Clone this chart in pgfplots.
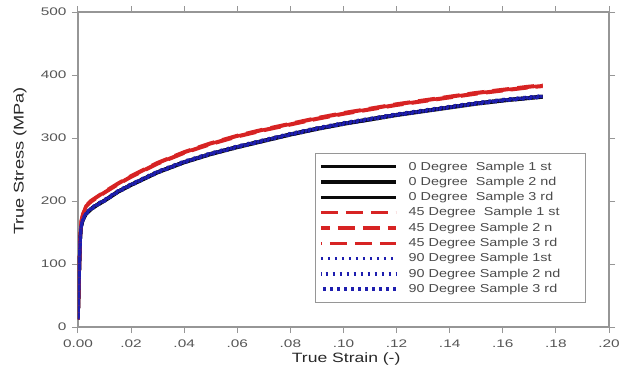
\documentclass[border=0pt]{standalone}
\usepackage{fontspec}
\setmainfont{Liberation Sans}
\newfontfamily\tickfont{Liberation Sans}[FakeStretch=1.4]
\newfontfamily\legfont{Liberation Sans}[FakeStretch=1.25]
\newfontfamily\labfont{Liberation Sans}[FakeStretch=1.3]
\usepackage{pgfplots}
\usepackage{pgfplotstable}
\pgfplotsset{compat=1.18}
\definecolor{axisgray}{RGB}{150,150,150}
\definecolor{ticktext}{RGB}{85,85,85}
\definecolor{labtext}{RGB}{40,40,40}
\definecolor{legtext}{RGB}{75,75,75}
\definecolor{red45}{RGB}{215,35,35}
\definecolor{blue90}{RGB}{30,30,175}
\definecolor{black0}{RGB}{10,10,10}

\pgfplotstableread{
e       k1  k2  k3   r1  r2  r3   b1  b2  b3
0       12  12  12   12  12  12   12  12  12
0.0003  60  60  59   60  61  59   60  61  59
0.0006  108 108 107  110 111 109  108 109 107
0.0009  145 145 144  150 151 149  145 146 144
0.0012  160 160 159  168 169 167  160 161 159
0.0018  170 170 169  178 179 177  170 171 169
0.003   180 180 179  192 193 191  180 181 179
0.005   188 188 187  200 201 199  188 189 187
0.0075  195 195 194  207 208 206  195 196 194
0.01    201 201 200  214 215 213  201 202 200
0.015   215 215 214  227 228 226  215 216 214
0.02    226 226 225  239 240 238  226 227 225
0.03    246 246 245  260 261 259  246 247 245
0.04    262 262 261  277 278 276  262 263 261
0.05    275 275 274  291 292 290  275 276 274
0.06    286 286 285  303 304 302  286 287 285
0.07    296 296 295  313 314 312  296 297 295
0.08    306 306 305  322 323 321  306 307 305
0.09    315 315 314  331 332 330  315 316 314
0.10    323 323 322  339 340 338  323 324 322
0.11    330 330 329  346 347 345  330 331 329
0.12    337 337 336  353 354 352  337 338 336
0.13    343 343 342  359 360 358  343 344 342
0.14    349 349 348  365 366 364  349 350 348
0.15    355 355 354  371 372 370  355 356 354
0.16    360 360 359  376 377 375  360 361 359
0.17    364 364 363  381 382 380  364 365 363
0.175   366 366 365  383 384 382  366 367 365
}\data

\begin{document}
\begin{tikzpicture}
\useasboundingbox (-78bp,-49bp) rectangle (542bp,327bp);
\begin{axis}[
  at={(0,0)}, anchor=south west,
  scale only axis, width=531bp, height=315bp,
  xmin=0, xmax=0.2, ymin=0, ymax=500,
  xtick={0,0.02,0.04,0.06,0.08,0.1,0.12,0.14,0.16,0.18,0.2},
  xticklabels={0.00,.02,.04,.06,.08,.10,.12,.14,.16,.18,.20},
  ytick={0,100,200,300,400,500},
  /pgf/number format/assume math mode=true,
  tick align=outside,
  major tick length=6bp,
  tick style={draw=axisgray, line width=1bp},
  axis line style={draw=axisgray, line width=1.5bp},
  every axis plot/.append style={line join=round},
  ticklabel style={font=\fontsize{11bp}{12bp}\tickfont, text=ticktext},
  xticklabel style={yshift=-3bp},
  yticklabel style={xshift=-2bp},
  xlabel={True Strain (-)},
  ylabel={True Stress (MPa)},
  label style={text=labtext},
  xlabel style={font=\fontsize{13.5bp}{15bp}\labfont, at={(axis description cs:0.505,-0.1016)}, anchor=center},
  ylabel style={font=\fontsize{14bp}{15bp}\labfont, at={(axis description cs:-0.1092,0.527)}, anchor=center},
  legend image code/.code={\draw[#1] (0bp,0bp) -- (75bp,0bp);},
  legend cell align=left,
  legend style={at={(axis description cs:0.957,0.552)}, anchor=north east,
    draw=axisgray, line width=1bp, inner xsep=4bp, inner ysep=5.5bp,
    font=\fontsize{11.5bp}{12bp}\legfont, text=legtext,
    nodes={inner ysep=2.4bp, inner xsep=4bp, text height=8.5bp, text depth=2bp},
    /tikz/every odd column/.append style={column sep=7bp}},
]
\addplot[black0, line width=3.4bp] table[x=e,y=k1]{\data};
\addplot[black0, line width=3.4bp] table[x=e,y=k2]{\data};
\addplot[black0, line width=3.4bp] table[x=e,y=k3]{\data};
\addplot[red45, line width=3.4bp, dash pattern=on 17bp off 8bp] table[x=e,y=r1]{\data};
\addplot[red45, line width=3.4bp, dash pattern=on 17bp off 8bp, dash phase=8bp] table[x=e,y=r2]{\data};
\addplot[red45, line width=3.4bp, dash pattern=on 17bp off 8bp, dash phase=16bp] table[x=e,y=r3]{\data};
\addplot[blue90, line width=3.4bp, dash pattern=on 2.5bp off 4.5bp] table[x=e,y=b1]{\data};
\addplot[blue90, line width=3.4bp, dash pattern=on 2.5bp off 4.5bp, dash phase=2.4bp] table[x=e,y=b2]{\data};
\addplot[blue90, line width=3.4bp, dash pattern=on 2.5bp off 4.5bp, dash phase=4.8bp] table[x=e,y=b3]{\data};
\legend{\makebox[169bp][l]{0 Degree~~Sample 1 st},
        \makebox[169bp][l]{0 Degree~~Sample 2 nd},
        \makebox[169bp][l]{0 Degree~~Sample 3 rd},
        \makebox[169bp][l]{45 Degree~~Sample 1 st},
        \makebox[169bp][l]{45 Degree Sample 2 n},
        \makebox[169bp][l]{45 Degree Sample 3 rd},
        \makebox[169bp][l]{90 Degree Sample 1st},
        \makebox[169bp][l]{90 Degree Sample 2 nd},
        \makebox[169bp][l]{90 Degree Sample 3 rd}}
\end{axis}
\end{tikzpicture}
\end{document}
